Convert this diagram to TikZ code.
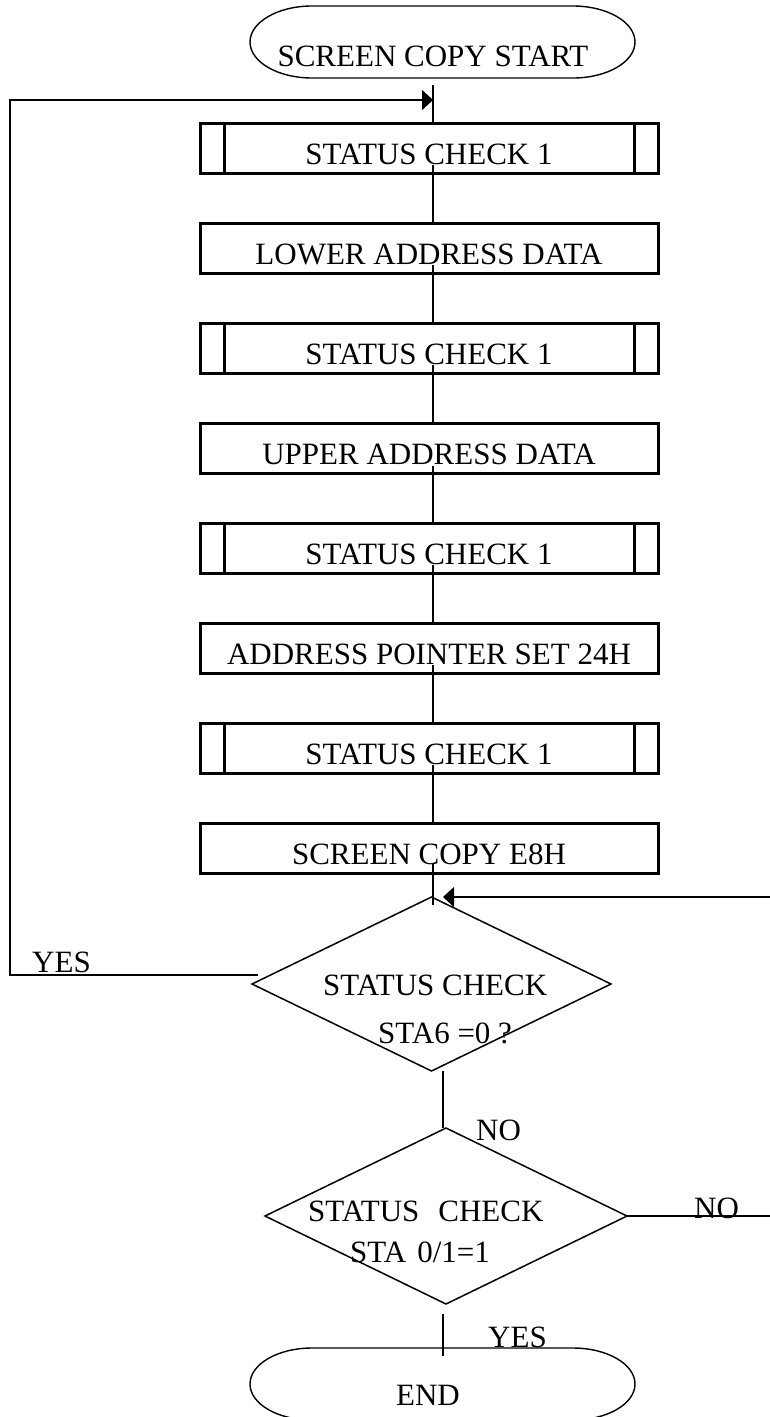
\documentclass[tikz,border=0pt]{standalone}
\usepackage{fontspec}
\setmainfont{Liberation Serif}
\usetikzlibrary{arrows.meta,shapes.geometric}
\begin{document}
\begin{tikzpicture}[x=1pt,y=-1pt,
  every node/.style={font=\fontsize{31}{37}\selectfont},
  procbox/.style={draw, line width=3pt, minimum width=458pt, minimum height=50pt,
    inner sep=0pt, outer sep=0pt, text height=32pt, text depth=0pt},
  innerline/.style={line width=3pt},
  flow/.style={line width=1.2pt},
  decision/.style={diamond, draw, line width=1.5pt, inner sep=0pt, outer sep=0pt},
  terminal/.style={minimum width=385pt, minimum height=72pt, inner sep=0pt, outer sep=0pt},
  ovalline/.style={line width=1.4pt},
  lbl/.style={anchor=base west, inner sep=0pt},
  ctext/.style={anchor=base, inner sep=0pt},
  tip/.style={-{Triangle[length=11pt,width=20pt]}}
]
\useasboundingbox (0,0) rectangle (769,1417);

% helper coordinates
\coordinate (fx) at (433,0);
\coordinate (fx2) at (443,0);
\coordinate (lx) at (10,0);
\coordinate (rx) at (772,0);
\coordinate (loopin) at (433,100);

% terminals
\node[terminal] (start) at (442.5,42) {};
\node[terminal] (endn) at (442.5,1384) {};
\foreach \n in {start,endn}
  \draw[ovalline] ([xshift=62pt]\n.north west) -- ([xshift=-62pt]\n.north east)
    arc[start angle=90,end angle=-90,x radius=62pt,y radius=36pt]
    -- ([xshift=62pt]\n.south west)
    arc[start angle=270,end angle=90,x radius=62pt,y radius=36pt] -- cycle;
\node[ctext] (starttxt) at (433,66) {SCREEN COPY START};
\node[ctext] (endtxt) at (428,1405) {END};

% process boxes
\node[procbox] (sc1a) at (429,148) {STATUS CHECK 1};
\node[procbox] (lad)  at (429,248) {LOWER ADDRESS DATA};
\node[procbox] (sc1b) at (429,348) {STATUS CHECK 1};
\node[procbox] (uad)  at (429,448.5) {UPPER ADDRESS DATA};
\node[procbox] (sc1c) at (429,548) {STATUS CHECK 1};
\node[procbox] (aps)  at (429,648) {ADDRESS POINTER SET 24H};
\node[procbox] (sc1d) at (429,748) {STATUS CHECK 1};
\node[procbox] (sce)  at (429,848) {SCREEN COPY E8H};
\foreach \n in {sc1a,sc1b,sc1c,sc1d}
  \draw[innerline] ([xshift=24pt]\n.north west) -- ([xshift=24pt]\n.south west)
    ([xshift=-24pt]\n.north east) -- ([xshift=-24pt]\n.south east);

% decisions
\node[decision, minimum width=359pt, minimum height=174pt] (d1) at (431.5,984) {};
\node[decision, minimum width=362pt, minimum height=176pt] (d2) at (446,1216) {};
\node[lbl] (d1a) at (323,995) {STATUS CHECK};
\node[lbl] (d1b) at (378,1043) {STA6 =0 ?};
\node[lbl] (d2a) at (308,1221) {STATUS\hspace{19pt}CHECK};
\node[lbl] (d2b) at (350,1262) {STA\hspace{11pt}0/1=1};

% labels
\node[lbl] (yes1) at (32,972) {YES};
\node[lbl] (no1) at (476,1140) {NO};
\node[lbl] (no2) at (694,1218) {NO};
\node[lbl] (yes2) at (488,1347) {YES};

% connectors
\draw[flow] ([yshift=-7pt]start.south -| fx) -- (sc1a.north -| fx);
\foreach \a/\b in {sc1a/lad, lad/sc1b, sc1b/uad, uad/sc1c, sc1c/aps, aps/sc1d, sc1d/sce}
  \draw[flow] ([yshift=8pt]\a.south -| fx) -- (\b.north -| fx);
\draw[flow] ([yshift=9pt]sce.south -| fx) -- ([yshift=-8pt]d1.north -| fx);
\draw[flow] (d1.south -| fx2) -- (d2.north -| fx2);
\draw[flow] ([yshift=-10pt]d2.south -| fx2) -- ([yshift=-8pt]endn.north -| fx2);
\draw[flow, tip] (d2.east) -- (d2.east -| rx) |- ([xshift=11.5pt]d1.north);
\draw[flow, tip] ([xshift=6pt,yshift=9pt]d1.west) -- ([yshift=9pt]d1.west -| lx) |- (loopin);
\end{tikzpicture}
\end{document}
